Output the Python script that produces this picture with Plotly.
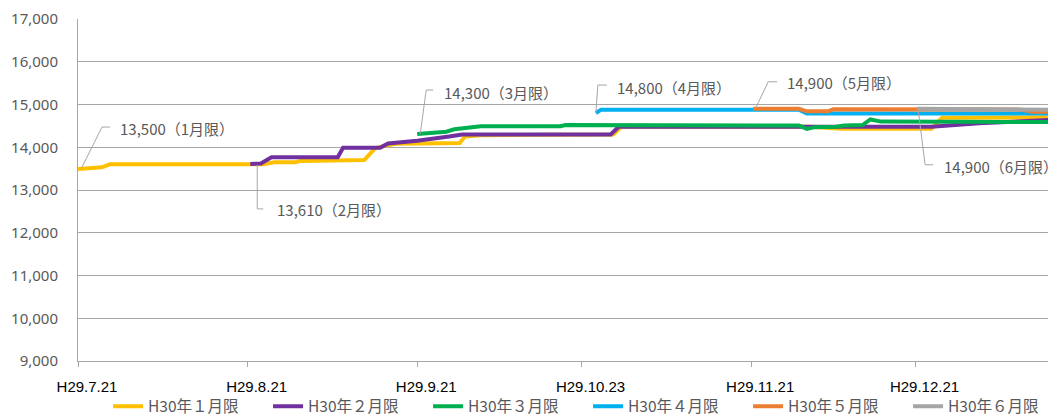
import plotly.graph_objects as go

# ---- axis ticks ----
tick_pos = [0, 32, 64, 95, 127, 158]
tick_labels = ["H29.7.21", "H29.8.21", "H29.9.21", "H29.10.23", "H29.11.21", "H29.12.21"]

# ---- series (x = day index, y = price) ----
names = ["H30年１月限", "H30年２月限", "H30年３月限", "H30年４月限", "H30年５月限", "H30年６月限"]
colors = ["#FFC000", "#7030A0", "#00B050", "#00B0F0", "#ED7D31", "#A5A5A5"]

jan_x = [0, 4.5, 6, 35, 37, 41, 42, 54, 56, 58, 60, 72, 73, 76, 101, 102.5, 138, 144, 161, 163, 183]
jan_y = [13490, 13530, 13600, 13600, 13650, 13650, 13680, 13700, 13970, 14040, 14080, 14100, 14250,
         14280, 14300, 14480, 14480, 14430, 14430, 14690, 14700]

feb_x = [32.5, 34.5, 36.5, 49, 50, 57, 58.5, 64, 70, 72.5, 100.5, 102, 161, 170, 183]
feb_y = [13610, 13620, 13765, 13765, 13990, 13990, 14090, 14150, 14250, 14300, 14300, 14480, 14480,
         14560, 14640]

mar_x = [64, 69.5, 71, 72.5, 76, 91, 92, 136, 137.5, 139, 143, 144.5, 148, 149.5, 151.5, 183]
mar_y = [14310, 14365, 14420, 14440, 14490, 14490, 14520, 14510, 14430, 14470, 14480, 14510, 14520,
         14650, 14600, 14590]

apr_x = [97.7, 98.7, 136, 137.5, 183]
apr_y = [14800, 14880, 14880, 14790, 14790]

may_x = [127.4, 136, 137.5, 141.5, 142.5, 178, 180, 183]
may_y = [14900, 14900, 14840, 14840, 14890, 14880, 14830, 14830]

jun_x = [158.3, 178, 180, 183]
jun_y = [14900, 14900, 14880, 14880]

label_values = [13500, 13610, 14300, 14800, 14900, 14900]
label_months = ["1", "2", "3", "4", "5", "6"]

series_x = [jan_x, feb_x, mar_x, apr_x, may_x, jun_x]
series_y = [jan_y, feb_y, mar_y, apr_y, may_y, jun_y]

# leader-line styling (pixel offsets from each series' first point, +y up)
leader_paths = [
    [(3, 0), (24, 42), (32, 42)],
    [(7, -1), (7, -45), (13, -45)],
    [(3, 0), (9, 44), (16, 44)],
    [(0, 0), (2, 28), (11, 28)],
    [(2, 0), (15, 27), (24, 27)],
    [(1, 0), (8, -56), (16, -56)],
]
text_offsets = [(40, 41), (25, -46), (25, 42), (19, 26), (32, 26), (25, -58)]

fig = go.Figure()
for nm, c, xs, ys in zip(names, colors, series_x, series_y):
    fig.add_trace(go.Scatter(x=xs, y=ys, mode="lines", name=nm,
                             line=dict(color=c, width=4), hoverinfo="skip"))

shapes = []
annotations = []
for xs, ys, v, m, path, (tx, ty) in zip(series_x, series_y, label_values, label_months,
                                         leader_paths, text_offsets):
    p = "M" + " L".join(f"{dx},{dy}" for dx, dy in path)
    shapes.append(dict(type="path", xref="x", yref="y", xsizemode="pixel", ysizemode="pixel",
                       xanchor=xs[0], yanchor=ys[0], path=p,
                       line=dict(color="#A6A6A6", width=1)))
    annotations.append(dict(x=xs[0], y=ys[0], xref="x", yref="y", xshift=tx, yshift=ty,
                            text=f"{v:,}（{m}月限）", showarrow=False, xanchor="left",
                            yanchor="middle",
                            font=dict(family="Noto Sans CJK JP", size=15, color="#595959")))

fig.update_layout(
    width=1048, height=417,
    margin=dict(l=78, r=0, t=19, b=56, autoexpand=False),
    paper_bgcolor="white", plot_bgcolor="white",
    shapes=shapes, annotations=annotations,
    showlegend=True,
    legend=dict(orientation="h", x=0.031, xanchor="left", y=-0.084, yanchor="top",
                font=dict(family="Noto Sans CJK JP", size=15.5, color="#595959"),
                entrywidth=115, itemwidth=30, bgcolor="rgba(0,0,0,0)"),
    xaxis=dict(range=[0, 183], tickmode="array", tickvals=tick_pos, ticktext=tick_labels,
               automargin=False,
               showgrid=False, zeroline=False, showline=True, linecolor="#A6A6A6", linewidth=1,
               ticks="outside", ticklen=5, tickcolor="#A6A6A6",
               tickfont=dict(family="Liberation Sans", size=15, color="#000000"),
               ticklabelshift=9, ticklabelstandoff=7),
    yaxis=dict(range=[9000, 17000], dtick=1000, tickformat=",", showgrid=True, automargin=False,
               gridcolor="#A6A6A6", gridwidth=1, zeroline=False, showline=True,
               linecolor="#A6A6A6", linewidth=1,
               tickfont=dict(family="Noto Sans", size=15, color="#595959"),
               ticklabelstandoff=16),
)

fig.write_html(
    "out.html",
    config={"displayModeBar": False},
    post_script="document.body.style.margin='0';document.body.style.overflow='hidden';",
)
